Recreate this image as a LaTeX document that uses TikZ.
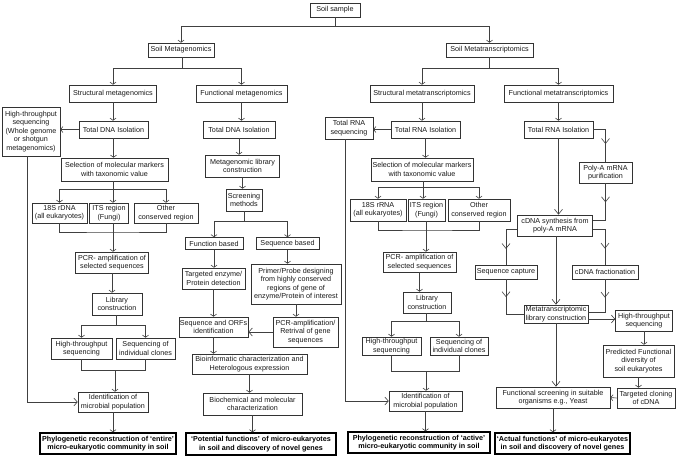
\documentclass[tikz,border=0pt]{standalone}
\usepackage{fontspec}
\setmainfont{Liberation Sans}
\usetikzlibrary{arrows.meta,decorations.markings}
\tikzset{
 box/.style={draw=black!80, line width=0.6pt, fill=white, align=center, inner sep=1pt, font=\fontsize{7.2}{8.4}\selectfont, text=black!90},
 res/.style={box, line width=1.5pt, draw=black, text=black, font=\bfseries\fontsize{7.2}{8.4}\selectfont},
 wh/.style 2 args={minimum width=#1pt, minimum height=#2pt},
 ln/.style={draw=black!75, line width=0.6pt},
 arr/.style={ln, -{Straight Barb[length=2.2pt,width=6pt]}},
 marr/.style={ln, -{Straight Barb[length=3.5pt,width=8pt]}},
 barr/.style={ln, -{Straight Barb[length=5pt,width=8pt]}},
 midarr/.style={ln, postaction={decorate, decoration={markings, mark=at position #1 with {\arrow{Straight Barb[length=5pt,width=8pt]}}}}},
}
\newcommand\vconn[2]{\draw[arr] (#1.south) -- (#1.south |- #2.north);}
\begin{document}
\begin{tikzpicture}[x=1pt,y=-1pt]
\fill[white] (0,0) rectangle (676,459);
\useasboundingbox (0,0) rectangle (676,459);
% top
\node[box, wh={50}{14}] (soil) at (335,10) {Soil sample};
\node[box, wh={66}{14}] (smg) at (181,50) {Soil Metagenomics};
\node[box, wh={87}{14}] (smt) at (489.5,50) {Soil Metatranscriptomics};
\node[box, wh={87}{17}] (stmg) at (113,93.5) {Structural metagenomics};
\node[box, wh={91}{17}] (fumg) at (241.5,93.5) {Functional metagenomics};
\node[box, wh={104}{17}] (stmt) at (422,93.5) {Structural metatranscriptomics};
\node[box, wh={109}{17}] (fumt) at (558.5,93.5) {Functional metatranscriptomics};
% structural metagenomics
\node[box, wh={69}{17}] (tdna1) at (113.5,129.5) {Total DNA Isolation};
\node[box, wh={58}{49}] (hts1) at (31,131.5) {High-throughput\\sequencing\\(Whole genome\\or shotgun\\metagenomics)};
\node[box, wh={107}{23}] (sel1) at (114.5,169.5) {Selection of molecular markers\\with taxonomic value};
\node[box, wh={55}{20}] (r18s1) at (59.5,213) {18S rDNA\\(all eukaryotes)};
\node[box, wh={39}{20}] (its1) at (109,213) {ITS region\\(Fungi)};
\node[box, wh={64}{20}] (oth1) at (166,213) {Other\\conserved region};
\node[box, wh={73}{21}] (pcr1) at (112,262.5) {PCR- amplification of\\selected sequences};
\node[box, wh={50}{22}] (lib1) at (117,304) {Library\\construction};
\node[box, wh={61}{21}] (hts2) at (81.5,348.5) {High-throughput\\sequencing};
\node[box, wh={59}{21}] (sic1) at (145.5,348.5) {Sequencing of\\individual clones};
\node[box, wh={70}{20}] (id1) at (113,402) {Identification of\\microbial population};
\node[res, wh={136}{21}] (res1) at (108,443.5) {Phylogenetic reconstruction of ‘entire’\\micro-eukaryotic community in soil};
% functional metagenomics
\node[box, wh={72}{17}] (tdna2) at (239,129.5) {Total DNA Isolation};
\node[box, wh={74}{22}] (mlc) at (242.5,166) {Metagenomic library\\construction};
\node[box, wh={36}{22}] (scr) at (244,200) {Screening\\methods};
\node[box, wh={58}{12}] (funb) at (214,243.5) {Function based};
\node[box, wh={63}{12}] (seqb) at (287.5,243.5) {Sequence based};
\node[box, wh={63}{21}] (tgt) at (213.5,278.5) {Targeted enzyme/\\Protein detection};
\node[box, wh={90}{40}] (prim) at (296,284) {Primer/Probe designing\\from highly conserved\\regions of gene of\\enzyme/Protein of interest};
\node[box, wh={69}{20}] (orf) at (213.5,327) {Sequence and ORFs\\identification};
\node[box, wh={65}{30}] (pcra) at (305.5,332) {PCR-amplification/\\Retrival of gene\\sequences};
\node[box, wh={115}{20}] (bio) at (249.5,364) {Bioinformatic characterization and\\Heterologous expression};
\node[box, wh={99}{22}] (bch) at (252.5,404) {Biochemical and molecular\\characterization};
\node[res, wh={150}{22}] (res2) at (261,444) {‘Potential functions’ of micro-eukaryotes\\in soil and discovery of novel genes};
% structural metatranscriptomics
\node[box, wh={69}{17}] (trna1) at (425.5,129.5) {Total RNA Isolation};
\node[box, wh={48}{22}] (trs) at (349,128) {Total RNA\\sequencing};
\node[box, wh={102}{23}] (sel2) at (422,169.5) {Selection of molecular markers\\with taxonomic value};
\node[box, wh={56}{22}] (r18s2) at (378,210) {18S rRNA\\(all eukaryotes)};
\node[box, wh={37}{22}] (its2) at (426.5,210) {ITS region\\(Fungi)};
\node[box, wh={62}{22}] (oth2) at (479,210) {Other\\conserved region};
\node[box, wh={73}{20}] (pcr2) at (419.5,262) {PCR- amplification of\\selected sequences};
\node[box, wh={48}{21}] (lib2) at (427,302.5) {Library\\construction};
\node[box, wh={59}{18}] (hts3) at (391.5,346) {High-throughput\\sequencing};
\node[box, wh={58}{18}] (sic2) at (459,346) {Sequencing of\\individual clones};
\node[box, wh={73}{20}] (id2) at (425.5,401) {Identification of\\microbial population};
\node[res, wh={142}{21}] (res3) at (419,442.5) {Phylogenetic reconstruction of ‘active’\\micro-eukaryotic community in soil};
% functional metatranscriptomics
\node[box, wh={69}{17}] (trna2) at (558.5,129.5) {Total RNA Isolation};
\node[box, wh={53}{21}] (polya) at (605.5,172.5) {Poly-A mRNA\\purification};
\node[box, wh={75}{21}] (cdna) at (555,225.5) {cDNA synthesis from\\poly-A mRNA};
\node[box, wh={62}{14}] (seqcap) at (506,272) {Sequence capture};
\node[box, wh={66}{14}] (cfrac) at (605,272) {cDNA fractionation};
\node[box, wh={64}{18}] (mtlib) at (556,314) {Metatranscriptomic\\library construction};
\node[box, wh={57}{21}] (htsr) at (644,320.5) {High-throughput\\sequencing};
\node[box, wh={71}{32}] (pred) at (638.5,361) {Predicted Functional\\diversity of\\soil eukaryotes};
\node[box, wh={58}{20}] (tcl) at (646,398) {Targeted cloning\\of cDNA};
\node[box, wh={114}{21}] (fscr) at (553,397.5) {Functional screening in suitable\\organisms e.g., Yeast};
\node[res, wh={135}{21}] (res4) at (562.5,443.5) {‘Actual functions’ of micro-eukaryotes\\in soil and discovery of novel genes};
% junction coordinates
\coordinate (b0) at (335,26);
\coordinate (b1) at (182,68);
\coordinate (b2) at (489.5,68);
\coordinate (b3) at (113,189);
\coordinate (b4) at (113,232);
\coordinate (b9) at (116,325);
\coordinate (b10) at (115,370);
\coordinate (b11) at (244,221);
\coordinate (b5) at (423,187);
\coordinate (b6) at (426,230);
\coordinate (b7) at (426,321);
\coordinate (b8) at (426,371);
% top connectors
\draw[ln] (soil) -- (b0);
\draw[arr] (b0) -| (smg);
\draw[arr] (b0) -| (smt);
\draw[ln] (smg.south -| b1) -- (b1);
\draw[arr] (b1) -| (stmg);
\draw[arr] (b1) -| (fumg);
\draw[ln] (smt) -- (b2);
\draw[arr] (b2) -| (stmt);
\draw[arr] (b2) -| (fumt);
% structural metagenomics connectors
\vconn{stmg}{tdna1}
\draw[arr] (tdna1.west) -- (tdna1.west -| hts1.east);
\vconn{tdna1}{sel1}
\draw[ln] (sel1.south -| b3) -- (b3);
\draw[arr] (b3) -| (r18s1);
\draw[arr] (b3) -- (b3 |- its1.north);
\draw[arr] (b3) -| (oth1);
\draw[ln] (r18s1) |- (b4) -| (oth1);
\draw[ln] (its1.south -| b4) -- (b4);
\draw[arr] (b4) -- (b4 |- pcr1.north);
\vconn{pcr1}{lib1}
\draw[ln] (lib1.south -| b9) -- (b9);
\draw[arr] (b9) -| (hts2);
\draw[arr] (b9) -| (sic1);
\draw[ln] (hts2) |- (b10) -| (sic1);
\draw[arr] (b10) -- (b10 |- id1.north);
\draw[marr] ([xshift=-4pt]hts1.south) |- (id1.west);
\vconn{id1}{res1}
% functional metagenomics connectors
\vconn{fumg}{tdna2}
\vconn{tdna2}{mlc}
\vconn{mlc}{scr}
\draw[ln] (scr) -- (b11);
\draw[arr] (b11) -| (funb);
\draw[arr] (b11) -| (seqb);
\vconn{funb}{tgt}
\vconn{seqb}{prim}
\vconn{tgt}{orf}
\vconn{prim}{pcra}
\draw[marr] (pcra.west) -- (pcra.west -| orf.east);
\vconn{orf}{bio}
\vconn{bio}{bch}
\vconn{bch}{res2}
% structural metatranscriptomics connectors
\vconn{stmt}{trna1}
\draw[arr] (trna1.west) -- (trna1.west -| trs.east);
\vconn{trna1}{sel2}
\draw[ln] (sel2.south -| b5) -- (b5);
\draw[arr] (b5) -| (r18s2);
\draw[arr] (b5) -- (b5 |- its2.north);
\draw[arr] (b5) -| (oth2);
\draw[ln] (r18s2) |- (b6) -| (oth2);
\draw[ln] (its2.south -| b6) -- (b6);
\draw[arr] (b6) -- (b6 |- pcr2.north);
\vconn{pcr2}{lib2}
\draw[ln] (lib2.south -| b7) -- (b7);
\draw[arr] (b7) -| (hts3);
\draw[arr] (b7) -| (sic2);
\draw[ln] (hts3) |- (b8) -| (sic2);
\draw[arr] (b8) -- (b8 |- id2.north);
\draw[marr] ([xshift=-4pt]trs.south) |- (id2.west);
\vconn{id2}{res3}
% functional metatranscriptomics connectors
\vconn{fumt}{trna2}
\draw[barr] (trna2.south) -- (trna2.south |- cdna.north);
\draw[midarr=0.6] (trna2.east) -| (polya);
\draw[midarr=0.38] (polya) |- ([yshift=5pt]cdna.east);
\draw[midarr=0.66] ([yshift=-4pt]cdna.west) -| (seqcap);
\draw[midarr=0.66] ([yshift=-4pt]cdna.east) -| (cfrac);
\draw[barr] (cdna.south -| mtlib) -- (mtlib);
\draw[midarr=0.34] (seqcap) |- (mtlib.west);
\draw[midarr=0.37] (cfrac) |- ([yshift=2pt]mtlib.east);
\draw[marr] ([yshift=-5pt]mtlib.east) -- ([yshift=-5pt]mtlib.east -| htsr.west);
\vconn{htsr}{pred}
\vconn{pred}{tcl}
\draw[arr] (tcl.west) -- (fscr.east);
\draw[barr] (mtlib.south) -- (mtlib.south |- fscr.north);
\vconn{fscr}{res4}
\end{tikzpicture}
\end{document}
